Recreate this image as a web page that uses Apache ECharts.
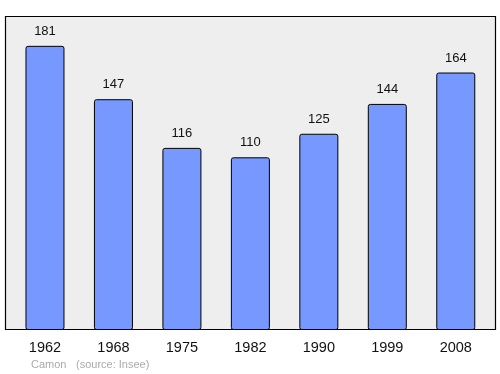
<!DOCTYPE html>
<html><head><meta charset="utf-8">
<script src="https://cdn.jsdelivr.net/npm/echarts@6/dist/echarts.min.js"></script>
<style>html,body{margin:0;padding:0;background:#fff}#c{width:500px;height:374px}</style>
</head><body><div id="c"></div>
<script>
const years = ['1962','1968','1975','1982','1990','1999','2008'];
const population = [181,147,116,110,125,144,164];
const commune = 'Camon';
const source = '(source: Insee)';

const chart = echarts.init(document.getElementById('c'), null, {renderer:'canvas'});
chart.setOption({
  animation:false,
  backgroundColor:'#ffffff',
  textStyle:{fontFamily:'Liberation Sans, Arial, sans-serif'},
  graphic:[
    {type:'rect', z:-10, silent:true, shape:{x:5.5,y:16.5,width:490,height:313},
     style:{fill:'#eeeeee', stroke:'#000000', lineWidth:1.2}},
    {type:'text', left:31, top:359, style:{text:commune, fill:'#aaaaaa', font:'11px Liberation Sans, Arial, sans-serif'}},
    {type:'text', left:76, top:359, style:{text:source, fill:'#aaaaaa', font:'11px Liberation Sans, Arial, sans-serif'}}
  ],
  grid:{left:10.75, right:10, top:16, bottom:44, show:false},
  xAxis:{type:'category', data:years, boundaryGap:true,
    axisLine:{show:false}, axisTick:{show:false},
    axisLabel:{color:'#111', fontSize:14.5, margin:10, fontFamily:'Liberation Sans, Arial, sans-serif'}},
  yAxis:{type:'value', min:0, max:200, show:false, splitLine:{show:false}},
  series:[{type:'bar', data:population, barWidth:39,
    itemStyle:{color:'#7799ff', borderColor:'#000000', borderWidth:1, borderRadius:2},
    label:{show:true, position:'top', distance:8, color:'#111', fontSize:13, fontFamily:'Liberation Sans, Arial, sans-serif'}
  }]
});
</script></body></html>
